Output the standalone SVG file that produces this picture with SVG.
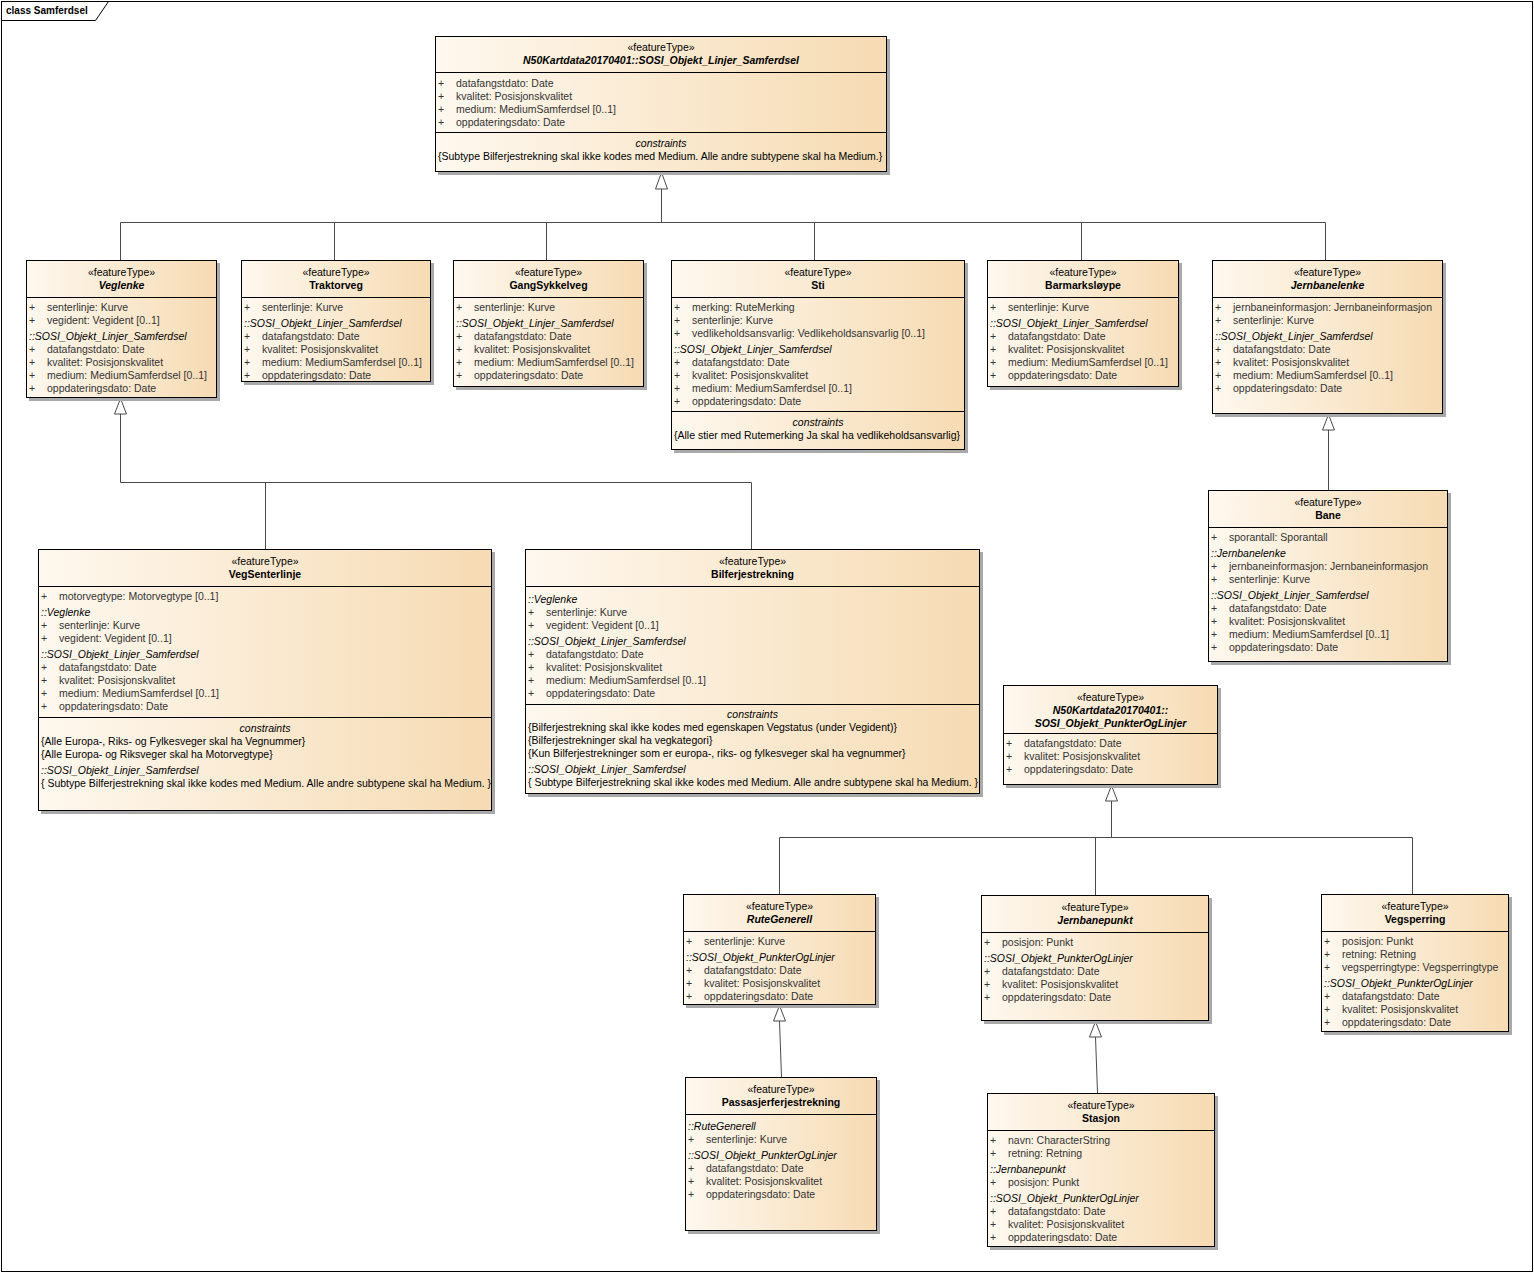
<svg xmlns="http://www.w3.org/2000/svg" width="1534" height="1273" viewBox="0 0 1534 1273">
<defs>
<linearGradient id="fill" x1="0" y1="0" x2="1" y2="0">
<stop offset="0" stop-color="#FEF8EF"/>
<stop offset="1" stop-color="#F6DBB3"/>
</linearGradient>
<style>
text{font-family:"Liberation Sans",Arial,sans-serif;font-size:10.5px;fill:#000}
.c{text-anchor:middle}
.n{font-weight:bold}
.i{font-style:italic}
.a{fill:#333}
.sh{fill:#a9a9a9}
.bx{fill:url(#fill);stroke:#000;stroke-width:1}
.dv{stroke:#000;stroke-width:1}
.cn{stroke:#4a4a4a;stroke-width:1;fill:none}
.tr{fill:#fff;stroke:#4a4a4a;stroke-width:1}
.fr{fill:none;stroke:#000;stroke-width:1}
</style>
</defs>
<rect x="0" y="0" width="1534" height="1273" fill="#fff"/>
<g id="frame">
<rect class="fr" x="1.5" y="1.5" width="1531" height="1270"/>
<path class="fr" d="M1.5 20.5 H95.5 L108.5 1.5"/>
<text class="n" x="6" y="14" style="font-size:10px">class Samferdsel</text>
</g>

<g id="connectors">
<path class="cn" d="M661.5 189 V222.5 M120.5 222.5 H1325.5 M120.5 222.5 V260 M334.5 222.5 V260 M546.5 222.5 V260 M814.5 222.5 V260 M1081.5 222.5 V260 M1325.5 222.5 V260"/>
<path class="tr" d="M661.5 172.5 L655.5 189 L667.5 189 Z"/>
<path class="cn" d="M120.5 414 V482.5 H751.5 V549 M265.5 482.5 V549"/>
<path class="tr" d="M120.5 398.5 L114.5 414 L126.5 414 Z"/>
<path class="cn" d="M1328.5 430 V490"/>
<path class="tr" d="M1328.5 414.5 L1322.5 430 L1334.5 430 Z"/>
<path class="cn" d="M1111.5 801 V837.5 M779.5 837.5 H1412.5 M779.5 837.5 V894 M1095.5 837.5 V895 M1412.5 837.5 V894"/>
<path class="tr" d="M1111.5 785.5 L1105.5 801 L1117.5 801 Z"/>
<path class="cn" d="M779.5 1021 L781.5 1077"/>
<path class="tr" d="M779.5 1005.5 L773.5 1021 L785.5 1021 Z"/>
<path class="cn" d="M1095.5 1037 L1097.5 1093"/>
<path class="tr" d="M1095.5 1021.5 L1089.5 1037 L1101.5 1037 Z"/>
</g>

<g id="SOSI_Objekt_Linjer_Samferdsel" transform="translate(435,36)">
<rect class="sh" x="3" y="3" width="452" height="136"/>
<rect class="bx" x="0.5" y="0.5" width="451" height="135"/>
<text class="c" x="226" y="15">«featureType»</text>
<text class="c n i" x="226" y="28">N50Kartdata20170401::SOSI_Objekt_Linjer_Samferdsel</text>
<line class="dv" x1="0" y1="36.5" x2="452" y2="36.5"/>
<text class="a" y="51"><tspan x="3">+</tspan><tspan x="21">datafangstdato: Date</tspan></text>
<text class="a" y="64"><tspan x="3">+</tspan><tspan x="21">kvalitet: Posisjonskvalitet</tspan></text>
<text class="a" y="77"><tspan x="3">+</tspan><tspan x="21">medium: MediumSamferdsel [0..1]</tspan></text>
<text class="a" y="90"><tspan x="3">+</tspan><tspan x="21">oppdateringsdato: Date</tspan></text>
<line class="dv" x1="0" y1="96.5" x2="452" y2="96.5"/>
<text class="c i" x="226" y="111">constraints</text>
<text x="3" y="124">{Subtype Bilferjestrekning skal ikke kodes med Medium. Alle andre subtypene skal ha Medium.}</text>
</g>

<g id="Veglenke" transform="translate(26,260)">
<rect class="sh" x="3" y="3" width="191" height="138"/>
<rect class="bx" x="0.5" y="0.5" width="190" height="137"/>
<text class="c" x="95.5" y="16">«featureType»</text>
<text class="c n i" x="95.5" y="28.5">Veglenke</text>
<line class="dv" x1="0" y1="37.5" x2="191" y2="37.5"/>
<text class="a" y="51"><tspan x="3">+</tspan><tspan x="21">senterlinje: Kurve</tspan></text>
<text class="a" y="64"><tspan x="3">+</tspan><tspan x="21">vegident: Vegident [0..1]</tspan></text>
<text class="i" x="3" y="80">::SOSI_Objekt_Linjer_Samferdsel</text>
<text class="a" y="93"><tspan x="3">+</tspan><tspan x="21">datafangstdato: Date</tspan></text>
<text class="a" y="106"><tspan x="3">+</tspan><tspan x="21">kvalitet: Posisjonskvalitet</tspan></text>
<text class="a" y="119"><tspan x="3">+</tspan><tspan x="21">medium: MediumSamferdsel [0..1]</tspan></text>
<text class="a" y="132"><tspan x="3">+</tspan><tspan x="21">oppdateringsdato: Date</tspan></text>
</g>

<g id="Traktorveg" transform="translate(241,260)">
<rect class="sh" x="3" y="3" width="190" height="122"/>
<rect class="bx" x="0.5" y="0.5" width="189" height="121"/>
<text class="c" x="95" y="16">«featureType»</text>
<text class="c n" x="95" y="28.5">Traktorveg</text>
<line class="dv" x1="0" y1="37.5" x2="190" y2="37.5"/>
<text class="a" y="51"><tspan x="3">+</tspan><tspan x="21">senterlinje: Kurve</tspan></text>
<text class="i" x="3" y="67">::SOSI_Objekt_Linjer_Samferdsel</text>
<text class="a" y="80"><tspan x="3">+</tspan><tspan x="21">datafangstdato: Date</tspan></text>
<text class="a" y="93"><tspan x="3">+</tspan><tspan x="21">kvalitet: Posisjonskvalitet</tspan></text>
<text class="a" y="106"><tspan x="3">+</tspan><tspan x="21">medium: MediumSamferdsel [0..1]</tspan></text>
<text class="a" y="119"><tspan x="3">+</tspan><tspan x="21">oppdateringsdato: Date</tspan></text>
</g>

<g id="GangSykkelveg" transform="translate(453,260)">
<rect class="sh" x="3" y="3" width="191" height="127"/>
<rect class="bx" x="0.5" y="0.5" width="190" height="126"/>
<text class="c" x="95.5" y="16">«featureType»</text>
<text class="c n" x="95.5" y="28.5">GangSykkelveg</text>
<line class="dv" x1="0" y1="37.5" x2="191" y2="37.5"/>
<text class="a" y="51"><tspan x="3">+</tspan><tspan x="21">senterlinje: Kurve</tspan></text>
<text class="i" x="3" y="67">::SOSI_Objekt_Linjer_Samferdsel</text>
<text class="a" y="80"><tspan x="3">+</tspan><tspan x="21">datafangstdato: Date</tspan></text>
<text class="a" y="93"><tspan x="3">+</tspan><tspan x="21">kvalitet: Posisjonskvalitet</tspan></text>
<text class="a" y="106"><tspan x="3">+</tspan><tspan x="21">medium: MediumSamferdsel [0..1]</tspan></text>
<text class="a" y="119"><tspan x="3">+</tspan><tspan x="21">oppdateringsdato: Date</tspan></text>
</g>

<g id="Sti" transform="translate(671,260)">
<rect class="sh" x="3" y="3" width="294" height="190"/>
<rect class="bx" x="0.5" y="0.5" width="293" height="189"/>
<text class="c" x="147" y="16">«featureType»</text>
<text class="c n" x="147" y="28.5">Sti</text>
<line class="dv" x1="0" y1="37.5" x2="294" y2="37.5"/>
<text class="a" y="51"><tspan x="3">+</tspan><tspan x="21">merking: RuteMerking</tspan></text>
<text class="a" y="64"><tspan x="3">+</tspan><tspan x="21">senterlinje: Kurve</tspan></text>
<text class="a" y="77"><tspan x="3">+</tspan><tspan x="21">vedlikeholdsansvarlig: Vedlikeholdsansvarlig [0..1]</tspan></text>
<text class="i" x="3" y="93">::SOSI_Objekt_Linjer_Samferdsel</text>
<text class="a" y="106"><tspan x="3">+</tspan><tspan x="21">datafangstdato: Date</tspan></text>
<text class="a" y="119"><tspan x="3">+</tspan><tspan x="21">kvalitet: Posisjonskvalitet</tspan></text>
<text class="a" y="132"><tspan x="3">+</tspan><tspan x="21">medium: MediumSamferdsel [0..1]</tspan></text>
<text class="a" y="145"><tspan x="3">+</tspan><tspan x="21">oppdateringsdato: Date</tspan></text>
<line class="dv" x1="0" y1="151.5" x2="294" y2="151.5"/>
<text class="c i" x="147" y="166">constraints</text>
<text x="3" y="179">{Alle stier med Rutemerking Ja skal ha vedlikeholdsansvarlig}</text>
</g>

<g id="Barmarksloype" transform="translate(987,260)">
<rect class="sh" x="3" y="3" width="192" height="127"/>
<rect class="bx" x="0.5" y="0.5" width="191" height="126"/>
<text class="c" x="96" y="16">«featureType»</text>
<text class="c n" x="96" y="28.5">Barmarksløype</text>
<line class="dv" x1="0" y1="37.5" x2="192" y2="37.5"/>
<text class="a" y="51"><tspan x="3">+</tspan><tspan x="21">senterlinje: Kurve</tspan></text>
<text class="i" x="3" y="67">::SOSI_Objekt_Linjer_Samferdsel</text>
<text class="a" y="80"><tspan x="3">+</tspan><tspan x="21">datafangstdato: Date</tspan></text>
<text class="a" y="93"><tspan x="3">+</tspan><tspan x="21">kvalitet: Posisjonskvalitet</tspan></text>
<text class="a" y="106"><tspan x="3">+</tspan><tspan x="21">medium: MediumSamferdsel [0..1]</tspan></text>
<text class="a" y="119"><tspan x="3">+</tspan><tspan x="21">oppdateringsdato: Date</tspan></text>
</g>

<g id="Jernbanelenke" transform="translate(1212,260)">
<rect class="sh" x="3" y="3" width="231" height="154"/>
<rect class="bx" x="0.5" y="0.5" width="230" height="153"/>
<text class="c" x="115.5" y="16">«featureType»</text>
<text class="c n i" x="115.5" y="28.5">Jernbanelenke</text>
<line class="dv" x1="0" y1="37.5" x2="231" y2="37.5"/>
<text class="a" y="51"><tspan x="3">+</tspan><tspan x="21">jernbaneinformasjon: Jernbaneinformasjon</tspan></text>
<text class="a" y="64"><tspan x="3">+</tspan><tspan x="21">senterlinje: Kurve</tspan></text>
<text class="i" x="3" y="80">::SOSI_Objekt_Linjer_Samferdsel</text>
<text class="a" y="93"><tspan x="3">+</tspan><tspan x="21">datafangstdato: Date</tspan></text>
<text class="a" y="106"><tspan x="3">+</tspan><tspan x="21">kvalitet: Posisjonskvalitet</tspan></text>
<text class="a" y="119"><tspan x="3">+</tspan><tspan x="21">medium: MediumSamferdsel [0..1]</tspan></text>
<text class="a" y="132"><tspan x="3">+</tspan><tspan x="21">oppdateringsdato: Date</tspan></text>
</g>

<g id="VegSenterlinje" transform="translate(38,549)">
<rect class="sh" x="3" y="3" width="454" height="262"/>
<rect class="bx" x="0.5" y="0.5" width="453" height="261"/>
<text class="c" x="227" y="16">«featureType»</text>
<text class="c n" x="227" y="28.5">VegSenterlinje</text>
<line class="dv" x1="0" y1="37.5" x2="454" y2="37.5"/>
<text class="a" y="51"><tspan x="3">+</tspan><tspan x="21">motorvegtype: Motorvegtype [0..1]</tspan></text>
<text class="i" x="3" y="67">::Veglenke</text>
<text class="a" y="80"><tspan x="3">+</tspan><tspan x="21">senterlinje: Kurve</tspan></text>
<text class="a" y="93"><tspan x="3">+</tspan><tspan x="21">vegident: Vegident [0..1]</tspan></text>
<text class="i" x="3" y="109">::SOSI_Objekt_Linjer_Samferdsel</text>
<text class="a" y="122"><tspan x="3">+</tspan><tspan x="21">datafangstdato: Date</tspan></text>
<text class="a" y="135"><tspan x="3">+</tspan><tspan x="21">kvalitet: Posisjonskvalitet</tspan></text>
<text class="a" y="148"><tspan x="3">+</tspan><tspan x="21">medium: MediumSamferdsel [0..1]</tspan></text>
<text class="a" y="161"><tspan x="3">+</tspan><tspan x="21">oppdateringsdato: Date</tspan></text>
<line class="dv" x1="0" y1="168.5" x2="454" y2="168.5"/>
<text class="c i" x="227" y="183">constraints</text>
<text x="3" y="196">{Alle Europa-, Riks- og Fylkesveger skal ha Vegnummer}</text>
<text x="3" y="209">{Alle Europa- og Riksveger skal ha Motorvegtype}</text>
<text class="i" x="3" y="225">::SOSI_Objekt_Linjer_Samferdsel</text>
<text x="3" y="238">{ Subtype Bilferjestrekning skal ikke kodes med Medium. Alle andre subtypene skal ha Medium. }</text>
</g>

<g id="Bilferjestrekning" transform="translate(525,549)">
<rect class="sh" x="3" y="3" width="455" height="245"/>
<rect class="bx" x="0.5" y="0.5" width="454" height="244"/>
<text class="c" x="227.5" y="16">«featureType»</text>
<text class="c n" x="227.5" y="28.5">Bilferjestrekning</text>
<line class="dv" x1="0" y1="37.5" x2="455" y2="37.5"/>
<text class="i" x="3" y="54">::Veglenke</text>
<text class="a" y="67"><tspan x="3">+</tspan><tspan x="21">senterlinje: Kurve</tspan></text>
<text class="a" y="80"><tspan x="3">+</tspan><tspan x="21">vegident: Vegident [0..1]</tspan></text>
<text class="i" x="3" y="96">::SOSI_Objekt_Linjer_Samferdsel</text>
<text class="a" y="109"><tspan x="3">+</tspan><tspan x="21">datafangstdato: Date</tspan></text>
<text class="a" y="122"><tspan x="3">+</tspan><tspan x="21">kvalitet: Posisjonskvalitet</tspan></text>
<text class="a" y="135"><tspan x="3">+</tspan><tspan x="21">medium: MediumSamferdsel [0..1]</tspan></text>
<text class="a" y="148"><tspan x="3">+</tspan><tspan x="21">oppdateringsdato: Date</tspan></text>
<line class="dv" x1="0" y1="155.5" x2="455" y2="155.5"/>
<text class="c i" x="227.5" y="169">constraints</text>
<text x="3" y="182">{Bilferjestrekning skal ikke kodes med egenskapen Vegstatus (under Vegident)}</text>
<text x="3" y="195">{Bilferjestrekninger skal ha vegkategori}</text>
<text x="3" y="208">{Kun Bilferjestrekninger som er europa-, riks- og fylkesveger skal ha vegnummer}</text>
<text class="i" x="3" y="224">::SOSI_Objekt_Linjer_Samferdsel</text>
<text x="3" y="237">{ Subtype Bilferjestrekning skal ikke kodes med Medium. Alle andre subtypene skal ha Medium. }</text>
</g>

<g id="Bane" transform="translate(1208,490)">
<rect class="sh" x="3" y="3" width="240" height="172"/>
<rect class="bx" x="0.5" y="0.5" width="239" height="171"/>
<text class="c" x="120" y="16">«featureType»</text>
<text class="c n" x="120" y="28.5">Bane</text>
<line class="dv" x1="0" y1="37.5" x2="240" y2="37.5"/>
<text class="a" y="51"><tspan x="3">+</tspan><tspan x="21">sporantall: Sporantall</tspan></text>
<text class="i" x="3" y="67">::Jernbanelenke</text>
<text class="a" y="80"><tspan x="3">+</tspan><tspan x="21">jernbaneinformasjon: Jernbaneinformasjon</tspan></text>
<text class="a" y="93"><tspan x="3">+</tspan><tspan x="21">senterlinje: Kurve</tspan></text>
<text class="i" x="3" y="109">::SOSI_Objekt_Linjer_Samferdsel</text>
<text class="a" y="122"><tspan x="3">+</tspan><tspan x="21">datafangstdato: Date</tspan></text>
<text class="a" y="135"><tspan x="3">+</tspan><tspan x="21">kvalitet: Posisjonskvalitet</tspan></text>
<text class="a" y="148"><tspan x="3">+</tspan><tspan x="21">medium: MediumSamferdsel [0..1]</tspan></text>
<text class="a" y="161"><tspan x="3">+</tspan><tspan x="21">oppdateringsdato: Date</tspan></text>
</g>

<g id="SOSI_Objekt_PunkterOgLinjer" transform="translate(1003,685)">
<rect class="sh" x="3" y="3" width="215" height="100"/>
<rect class="bx" x="0.5" y="0.5" width="214" height="99"/>
<text class="c" x="107.5" y="15.5">«featureType»</text>
<text class="c n i" x="107.5" y="28.5">N50Kartdata20170401::</text>
<text class="c n i" x="107.5" y="41.5">SOSI_Objekt_PunkterOgLinjer</text>
<line class="dv" x1="0" y1="48.5" x2="215" y2="48.5"/>
<text class="a" y="62"><tspan x="3">+</tspan><tspan x="21">datafangstdato: Date</tspan></text>
<text class="a" y="75"><tspan x="3">+</tspan><tspan x="21">kvalitet: Posisjonskvalitet</tspan></text>
<text class="a" y="88"><tspan x="3">+</tspan><tspan x="21">oppdateringsdato: Date</tspan></text>
</g>

<g id="RuteGenerell" transform="translate(683,894)">
<rect class="sh" x="3" y="3" width="193" height="111"/>
<rect class="bx" x="0.5" y="0.5" width="192" height="110"/>
<text class="c" x="96.5" y="16">«featureType»</text>
<text class="c n i" x="96.5" y="28.5">RuteGenerell</text>
<line class="dv" x1="0" y1="37.5" x2="193" y2="37.5"/>
<text class="a" y="51"><tspan x="3">+</tspan><tspan x="21">senterlinje: Kurve</tspan></text>
<text class="i" x="3" y="67">::SOSI_Objekt_PunkterOgLinjer</text>
<text class="a" y="80"><tspan x="3">+</tspan><tspan x="21">datafangstdato: Date</tspan></text>
<text class="a" y="93"><tspan x="3">+</tspan><tspan x="21">kvalitet: Posisjonskvalitet</tspan></text>
<text class="a" y="106"><tspan x="3">+</tspan><tspan x="21">oppdateringsdato: Date</tspan></text>
</g>

<g id="Jernbanepunkt" transform="translate(981,895)">
<rect class="sh" x="3" y="3" width="228" height="126"/>
<rect class="bx" x="0.5" y="0.5" width="227" height="125"/>
<text class="c" x="114" y="16">«featureType»</text>
<text class="c n i" x="114" y="28.5">Jernbanepunkt</text>
<line class="dv" x1="0" y1="37.5" x2="228" y2="37.5"/>
<text class="a" y="51"><tspan x="3">+</tspan><tspan x="21">posisjon: Punkt</tspan></text>
<text class="i" x="3" y="67">::SOSI_Objekt_PunkterOgLinjer</text>
<text class="a" y="80"><tspan x="3">+</tspan><tspan x="21">datafangstdato: Date</tspan></text>
<text class="a" y="93"><tspan x="3">+</tspan><tspan x="21">kvalitet: Posisjonskvalitet</tspan></text>
<text class="a" y="106"><tspan x="3">+</tspan><tspan x="21">oppdateringsdato: Date</tspan></text>
</g>

<g id="Vegsperring" transform="translate(1321,894)">
<rect class="sh" x="3" y="3" width="188" height="138"/>
<rect class="bx" x="0.5" y="0.5" width="187" height="137"/>
<text class="c" x="94" y="16">«featureType»</text>
<text class="c n" x="94" y="28.5">Vegsperring</text>
<line class="dv" x1="0" y1="37.5" x2="188" y2="37.5"/>
<text class="a" y="51"><tspan x="3">+</tspan><tspan x="21">posisjon: Punkt</tspan></text>
<text class="a" y="64"><tspan x="3">+</tspan><tspan x="21">retning: Retning</tspan></text>
<text class="a" y="77"><tspan x="3">+</tspan><tspan x="21">vegsperringtype: Vegsperringtype</tspan></text>
<text class="i" x="3" y="93">::SOSI_Objekt_PunkterOgLinjer</text>
<text class="a" y="106"><tspan x="3">+</tspan><tspan x="21">datafangstdato: Date</tspan></text>
<text class="a" y="119"><tspan x="3">+</tspan><tspan x="21">kvalitet: Posisjonskvalitet</tspan></text>
<text class="a" y="132"><tspan x="3">+</tspan><tspan x="21">oppdateringsdato: Date</tspan></text>
</g>

<g id="Passasjerferjestrekning" transform="translate(685,1077)">
<rect class="sh" x="3" y="3" width="192" height="154"/>
<rect class="bx" x="0.5" y="0.5" width="191" height="153"/>
<text class="c" x="96" y="16">«featureType»</text>
<text class="c n" x="96" y="28.5">Passasjerferjestrekning</text>
<line class="dv" x1="0" y1="37.5" x2="192" y2="37.5"/>
<text class="i" x="3" y="53">::RuteGenerell</text>
<text class="a" y="66"><tspan x="3">+</tspan><tspan x="21">senterlinje: Kurve</tspan></text>
<text class="i" x="3" y="82">::SOSI_Objekt_PunkterOgLinjer</text>
<text class="a" y="95"><tspan x="3">+</tspan><tspan x="21">datafangstdato: Date</tspan></text>
<text class="a" y="108"><tspan x="3">+</tspan><tspan x="21">kvalitet: Posisjonskvalitet</tspan></text>
<text class="a" y="121"><tspan x="3">+</tspan><tspan x="21">oppdateringsdato: Date</tspan></text>
</g>

<g id="Stasjon" transform="translate(987,1093)">
<rect class="sh" x="3" y="3" width="228" height="154"/>
<rect class="bx" x="0.5" y="0.5" width="227" height="153"/>
<text class="c" x="114" y="16">«featureType»</text>
<text class="c n" x="114" y="28.5">Stasjon</text>
<line class="dv" x1="0" y1="37.5" x2="228" y2="37.5"/>
<text class="a" y="51"><tspan x="3">+</tspan><tspan x="21">navn: CharacterString</tspan></text>
<text class="a" y="64"><tspan x="3">+</tspan><tspan x="21">retning: Retning</tspan></text>
<text class="i" x="3" y="80">::Jernbanepunkt</text>
<text class="a" y="93"><tspan x="3">+</tspan><tspan x="21">posisjon: Punkt</tspan></text>
<text class="i" x="3" y="109">::SOSI_Objekt_PunkterOgLinjer</text>
<text class="a" y="122"><tspan x="3">+</tspan><tspan x="21">datafangstdato: Date</tspan></text>
<text class="a" y="135"><tspan x="3">+</tspan><tspan x="21">kvalitet: Posisjonskvalitet</tspan></text>
<text class="a" y="148"><tspan x="3">+</tspan><tspan x="21">oppdateringsdato: Date</tspan></text>
</g>
</svg>
